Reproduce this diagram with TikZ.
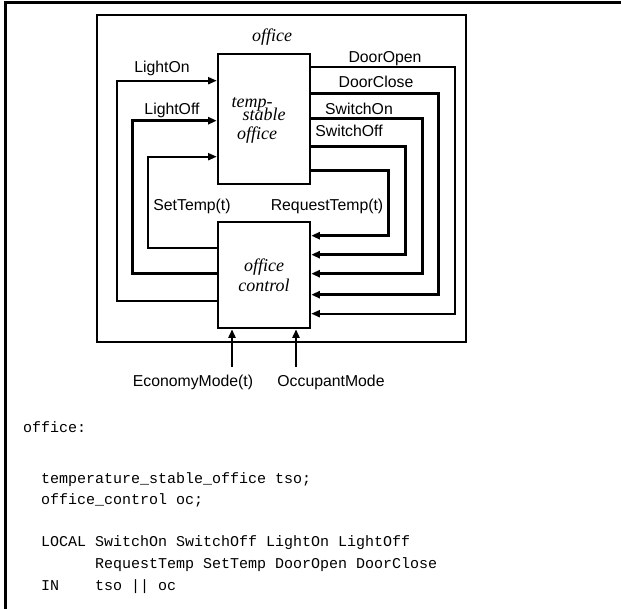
\documentclass[tikz,border=0pt]{standalone}
\usepackage{fontspec}
\setmainfont{Liberation Serif}
\setsansfont{Liberation Sans}
\setmonofont{Liberation Mono}
\usetikzlibrary{arrows.meta, positioning, calc}

\tikzset{
  block/.style={draw, line width=2.6pt, inner sep=0pt, minimum width=92pt},
  sigthin/.style={line width=1.8pt},
  sigthick/.style={line width=2.8pt},
  tip/.style={-{Triangle[length=8.5pt,width=7pt]}},
  lbl/.style={font=\fontsize{15.8}{19}\selectfont\sffamily, inner sep=0pt, anchor=base},
  modname/.style={font=\fontsize{18}{20}\selectfont\itshape, inner sep=0pt},
  codeline/.style={font=\fontsize{15}{18}\selectfont\ttfamily, inner sep=0pt, anchor=base west},
}

\begin{document}
\begin{tikzpicture}[x=1pt, y=-1pt]
  \useasboundingbox (0,0) rectangle (621,609);

  % Page frame
  \draw[line width=3pt] (5.5,609) -- (5.5,3) -- (621,3);

  % Modules
  \node[draw, line width=2.6pt, inner sep=0pt, minimum width=369pt, minimum height=327pt] (office) at (281.5,178.5) {};
  \node[modname, anchor=base] (officelbl) at (272,42) {office};
  \node[block, minimum height=130pt] (tso) at (264,119) {};
  \node[modname, anchor=base] (tsoa) at (252,108) {temp-};
  \node[modname, anchor=base] (tsob) at (264,121) {stable};
  \node[modname, anchor=base] (tsoc) at (257,140) {office};
  \node[block, modname, minimum height=106pt, align=center] (oc) at (264,275) {office\\control};

  % Signals from oc to tso
  \draw[sigthin, tip] ($(oc.north west)+(0,80)$) -- ++(-100,0) |- ($(tso.north west)+(0,28)$);
  \draw[sigthick, tip] ($(oc.north west)+(0,53)$) -- ++(-84,0) |- ($(tso.north west)+(0,68)$);
  \draw[sigthin, tip] ($(oc.north west)+(0,27)$) -- ++(-69,0) |- ($(tso.north west)+(0,104)$);
  \node[lbl] (lighton) at (162,73) {LightOn};
  \node[lbl] (lightoff) at (172,115) {LightOff};
  \node[lbl] (settemp) at (192,211) {SetTemp(t)};

  % Signals from tso to oc
  \draw[sigthin, tip] ($(tso.north east)+(0,14)$) -- ++(144,0) |- ($(oc.north east)+(0,93)$);
  \draw[sigthick, tip] ($(tso.north east)+(0,41)$) -- ++(127,0) |- ($(oc.north east)+(0,74)$);
  \draw[sigthick, tip] ($(tso.north east)+(0,66)$) -- ++(111,0) |- ($(oc.north east)+(0,53)$);
  \draw[sigthick, tip] ($(tso.north east)+(0,94)$) -- ++(94,0) |- ($(oc.north east)+(0,34)$);
  \draw[sigthick, tip] ($(tso.north east)+(0,118)$) -- ++(77,0) |- ($(oc.north east)+(0,15)$);
  \node[lbl] (dooropen) at (385,63) {DoorOpen};
  \node[lbl] (doorclose) at (376,88) {DoorClose};
  \node[lbl] (switchon) at (359,115) {SwitchOn};
  \node[lbl] (switchoff) at (349,137) {SwitchOff};
  \node[lbl] (reqtemp) at (327,211) {RequestTemp(t)};

  % External inputs
  \coordinate (econin) at (232,367);
  \coordinate (occin) at (296,367);
  \draw[sigthick, tip] (econin) -- (econin |- oc.south);
  \draw[sigthick, tip] (occin) -- (occin |- oc.south);
  \node[lbl] (econ) at (193,386) {EconomyMode(t)};
  \node[lbl] (occ) at (331,386) {OccupantMode};

  % Composition text
  \node[codeline] (code1) at (23,432) {office:};
  \node[codeline] (code2) at (41,483) {temperature\_stable\_office tso;};
  \node[codeline] (code3) at (41,504) {office\_control oc;};
  \node[codeline] (code4) at (41,546) {LOCAL SwitchOn SwitchOff LightOn LightOff};
  \node[codeline] (code5) at (95,568) {RequestTemp SetTemp DoorOpen DoorClose};
  \node[codeline] (code6) at (41,590) {IN\ \ \ \ tso || oc};
\end{tikzpicture}
\end{document}
